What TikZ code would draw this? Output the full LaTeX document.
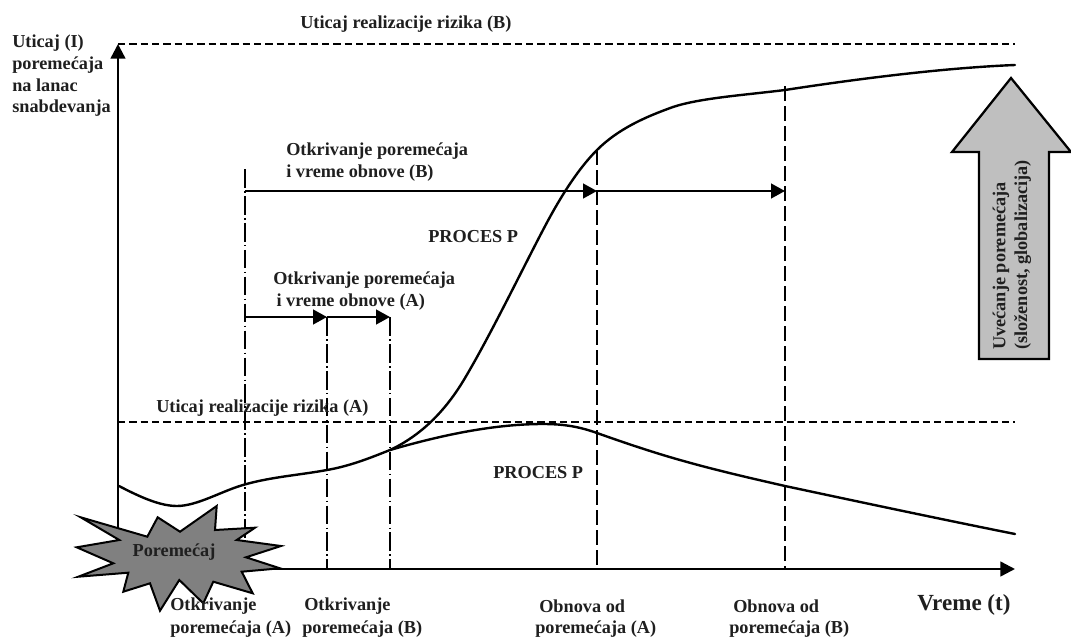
\documentclass[tikz,border=0pt]{standalone}
\usepackage{fontspec}
\setmainfont{Liberation Serif}
\usetikzlibrary{arrows.meta}
\tikzset{
 lbl/.style={font=\fontsize{13.7pt}{16.3pt}\selectfont\bfseries,inner sep=0pt,align=left,text=black!88},
 axisline/.style={line width=1.8pt,-{Triangle[length=11pt,width=11pt]}},
 curveline/.style={line width=1.8pt,line cap=round},
 lvl/.style={line width=1.5pt,dash pattern=on 5.5pt off 3pt},
 dashv/.style={line width=1.7pt,dash pattern=on 11pt off 4pt},
 dotv/.style={line width=1.7pt,dash pattern=on 14pt off 2.5pt on 1.2pt off 2.5pt},
 harrow/.style={line width=1.8pt,-{Triangle[length=10.5pt,width=11pt]}},
}
\begin{document}
\begin{tikzpicture}[x=0.75pt,y=-0.75pt]
\useasboundingbox (0,0) rectangle (1071,639);
\fill[white] (0,0) rectangle (1071,639);
\coordinate (o) at (118,569); \coordinate (ytop) at (118,44); \coordinate (xend) at (1015,569);
\coordinate (ybot) at (118,569);
\coordinate (la) at (118,422); \coordinate (lae) at (1015,422); \coordinate (lbe) at (1015,44);
\coordinate (v1t) at (245,169); \coordinate (v1b) at (245,569);
\coordinate (v2t) at (327,317); \coordinate (v2b) at (327,569);
\coordinate (v3t) at (390,317); \coordinate (v3b) at (390,569);
\coordinate (v4t) at (597,150); \coordinate (v4b) at (597,569);
\coordinate (v5t) at (785,86);  \coordinate (v5b) at (785,569);
\coordinate (h1) at (245,191); \coordinate (h2) at (597,191); \coordinate (h3) at (785,191);
\coordinate (k1) at (245,317);
\draw[lvl] (ytop)--(lbe);
\draw[lvl] (la)--(lae);
\draw[dotv] (v1t)--(v1b);
\draw[dotv] (v2t)--(v2b);
\draw[dotv] (v3t)--(v3b);
\draw[dashv] (v4t)--(v4b);
\draw[dashv] (v5t)--(v5b);
\draw[axisline] (ybot)--(ytop);
\draw[axisline] (o)--(xend);
\draw[harrow] (h1)--(h2);
\draw[harrow] (h2)--(h3);
\draw[harrow] (k1)--(v2t);
\draw[harrow] (v2t)--(v3t);
\draw[curveline] (119,486) .. controls (140,497) and (160,506) .. (177,506)
 .. controls (197,506) and (222,491) .. (243,485)
 .. controls (270,477) and (300,475) .. (327,470)
 .. controls (350,466) and (370,458) .. (390,450)
 .. controls (435,437) and (490,424) .. (543,424)
 .. controls (565,424) and (580,427) .. (597,433)
 .. controls (625,443) and (655,453) .. (680,460)
 .. controls (715,470) and (750,478) .. (785,486)
 .. controls (860,502) and (940,519) .. (1015,534);
\draw[curveline] (390,450) .. controls (420,436) and (445,412) .. (465,378)
 .. controls (490,336) and (523,268) .. (543,230)
 .. controls (556,205) and (575,172) .. (597,150)
 .. controls (618,129) and (645,117) .. (673,107)
 .. controls (700,98) and (745,95) .. (785,90)
 .. controls (850,80) and (940,68) .. (1015,65);
\draw[line width=1.5pt,fill=black!50,line join=miter]
 (80.7,517.3)--(147.3,536.7)--(157.7,517.3)--(180,531.7)--(216.7,506)--(215,530)--(255,527.7)--(236.7,540)--(281,546)--(246,557.3)--(280,568.3)--(241.7,571.7)--(252.7,593.3)--(213.3,581.7)--(203.3,603.3)--(179.3,580)--(160,610.7)--(150,583.3)--(123.3,591.7)--(128.3,572.7)--(78.3,576.7)--(113.3,563.3)--(76.7,547.3)--(119.3,540)--cycle;
\draw[line width=1.7pt,fill=black!25]
 (1011,78)--(1071,152)--(1049,152)--(1049,359)--(979,359)--(979,152)--(952,152)--cycle;
\node[lbl,anchor=center] (por) at (174,552) {Poremećaj};
\node[lbl,anchor=west,rotate=90] (uve) at (1012,350) {Uvećanje poremećaja\\(složenost, globalizacija)};
\node[lbl,anchor=west] (tb) at (300,24) {Uticaj realizacije rizika (B)};
\node[lbl,anchor=west] (yl) at (12,76) {Uticaj (I)\\poremećaja\\na lanac\\snabdevanja};
\node[lbl,anchor=west] (ob) at (286,162) {Otkrivanje poremećaja\\i vreme obnove (B)};
\node[lbl,anchor=west] (pb) at (428,237) {PROCES P};
\node[lbl,anchor=west] (oa) at (273,291) {Otkrivanje poremećaja\\\hspace*{2.5pt}i vreme obnove (A)};
\node[lbl,anchor=west] (ta) at (156,408) {Uticaj realizacije rizika (A)};
\node[lbl,anchor=west] (pa) at (493,473) {PROCES P};
\node[lbl,anchor=west] (d1) at (170,606) {Otkrivanje};
\node[lbl,anchor=west] (d1b) at (170,629) {poremećaja (A)};
\node[lbl,anchor=west] (d2) at (304,606) {Otkrivanje};
\node[lbl,anchor=west] (d2b) at (302,629) {poremećaja (B)};
\node[lbl,anchor=west] (d3) at (539,606) {Obnova od};
\node[lbl,anchor=west] (d3b) at (535,629) {poremećaja (A)};
\node[lbl,anchor=west] (d4) at (733,606) {Obnova od};
\node[lbl,anchor=west] (d4b) at (729,629) {poremećaja (B)};
\node[lbl,anchor=west,font=\fontsize{17.3pt}{19pt}\selectfont\bfseries] (vr) at (917,605) {Vreme (t)};
\end{tikzpicture}
\end{document}
